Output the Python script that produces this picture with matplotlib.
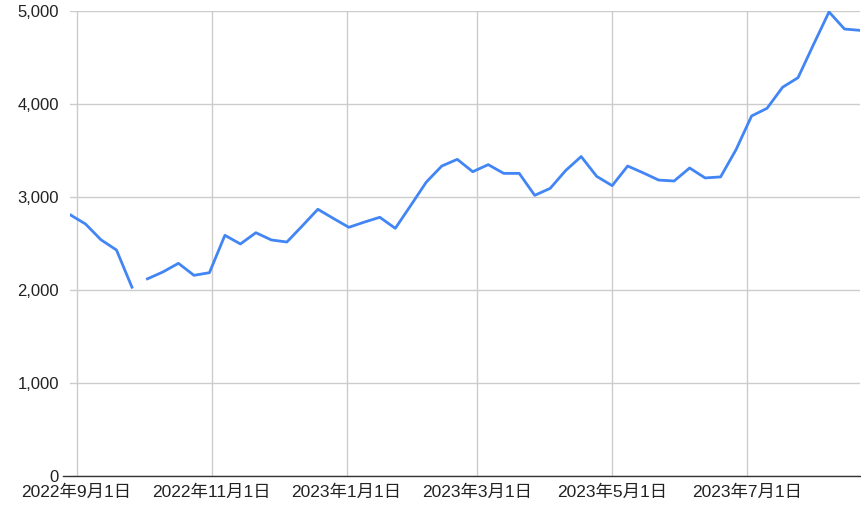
import matplotlib
matplotlib.use("Agg")
import matplotlib.pyplot as plt
from matplotlib.lines import Line2D
from matplotlib.ticker import FuncFormatter
import numpy as np
import pandas as pd

plt.rcParams['font.family'] = ['Liberation Sans', 'Noto Sans CJK JP', 'DejaVu Sans']

# weekly dates (Mondays) from 2022-08-29; one blank row produces the gap
dates = list(pd.date_range("2022-08-29", periods=52, freq="7D"))
values = [2810, 2710, 2540, 2430, 2030,
          2120, 2194, 2287, 2158, 2186,
          2588, 2495, 2616, 2538, 2516,
          2690, 2868, 2770, 2674, 2730,
          2782, 2663, 2910, 3160, 3333,
          3405, 3272, 3348, 3254, 3254,
          3018, 3093, 3285, 3435, 3222,
          3122, 3333, 3260, 3182, 3172,
          3312, 3205, 3216, 3510, 3871,
          3954, 4180, 4283, 4640, 4990,
          4806, 4792]
gap_date = pd.Timestamp("2022-09-30")

tick_dates = ["2022-09-01", "2022-11-01", "2023-01-01", "2023-03-01", "2023-05-01", "2023-07-01"]
tick_labels = ["2022年9月1日", "2022年11月1日", "2023年1月1日", "2023年3月1日", "2023年5月1日", "2023年7月1日"]
y_ticks = [0, 1000, 2000, 3000, 4000, 5000]

s = pd.Series(values, index=pd.DatetimeIndex(dates))
s.loc[gap_date] = np.nan
s = s.sort_index()

W, H = 861, 516
fig = plt.figure(figsize=(W / 100, H / 100), dpi=100)
ax = fig.add_axes([70 / W, (H - 476) / H, (860 - 70) / W, (476 - 11) / H])

ax.plot(s.index, s.values, color="#4285F4", linewidth=2.0, solid_joinstyle="round", zorder=3)

ax.set_xlim(dates[0], dates[-1])
ax.set_ylim(0, 5000)
ax.set_yticks(y_ticks)
ax.yaxis.set_major_formatter(FuncFormatter(lambda v, p: f"{int(v):,}"))
ax.set_xticks([pd.Timestamp(d) for d in tick_dates])
ax.set_xticklabels(tick_labels)

ax.grid(True, color="#cccccc", linewidth=1.0, zorder=0)
for sp in ax.spines.values():
    sp.set_visible(False)
ax.tick_params(axis="both", length=0, colors="#222222")
ax.tick_params(axis="y", pad=8, labelsize=12)
ax.tick_params(axis="x", pad=6, labelsize=12.5)

# baseline, extending slightly left of the plot area
ax.add_line(Line2D([-0.009, 1.0], [0, 0], transform=ax.transAxes, color="#333333",
                   linewidth=1.0, clip_on=False, zorder=4))

fig.savefig("out.png", dpi=100)
